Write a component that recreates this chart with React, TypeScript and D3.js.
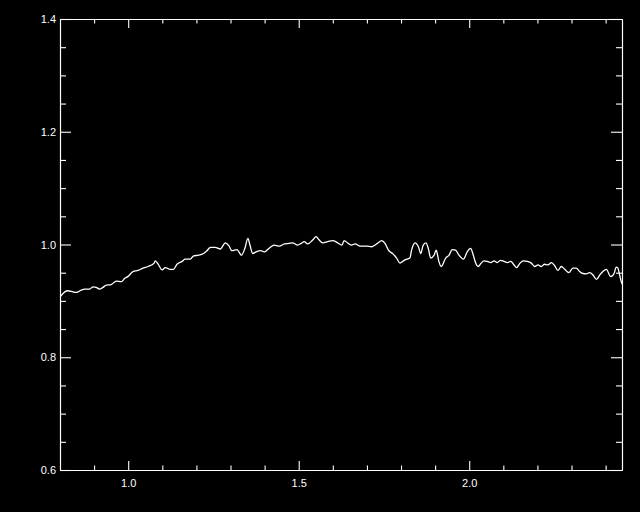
import React, { useEffect, useRef } from 'react';
import * as d3 from 'd3';

// wavelength (x) and normalised flux (y)
const wavelength = [
  0.800, 0.814, 0.823, 0.838, 0.848, 0.862, 0.872, 0.887, 0.897, 0.906,
  0.916, 0.926, 0.936, 0.950, 0.965, 0.980, 0.990, 0.999, 1.014, 1.029,
  1.043, 1.058, 1.076, 1.079, 1.089, 1.099, 1.109, 1.123, 1.133, 1.143,
  1.158, 1.167, 1.182, 1.192, 1.207, 1.221, 1.231, 1.241, 1.255, 1.270,
  1.285, 1.295, 1.304, 1.319, 1.332, 1.342, 1.351, 1.357, 1.365, 1.375,
  1.389, 1.399, 1.409, 1.419, 1.428, 1.443, 1.458, 1.472, 1.482, 1.497,
  1.507, 1.516, 1.526, 1.541, 1.551, 1.560, 1.570, 1.585, 1.600, 1.614,
  1.627, 1.633, 1.645, 1.655, 1.665, 1.680, 1.699, 1.714, 1.724, 1.733,
  1.743, 1.753, 1.763, 1.777, 1.787, 1.797, 1.807, 1.817, 1.826, 1.831,
  1.841, 1.851, 1.858, 1.865, 1.873, 1.880, 1.887, 1.897, 1.903, 1.905,
  1.911, 1.918, 1.931, 1.941, 1.950, 1.960, 1.970, 1.983, 1.994, 2.004,
  2.012, 2.019, 2.026, 2.035, 2.043, 2.053, 2.063, 2.073, 2.082, 2.092,
  2.102, 2.112, 2.122, 2.131, 2.139, 2.149, 2.159, 2.170, 2.182, 2.192,
  2.202, 2.211, 2.221, 2.231, 2.241, 2.251, 2.260, 2.270, 2.280, 2.292,
  2.304, 2.314, 2.324, 2.331, 2.343, 2.353, 2.363, 2.373, 2.383, 2.392,
  2.402, 2.415, 2.425, 2.431, 2.436, 2.441, 2.446, 2.451,
];

const flux = [
  0.907, 0.916, 0.918, 0.916, 0.915, 0.919, 0.921, 0.921, 0.925, 0.924,
  0.921, 0.924, 0.928, 0.929, 0.935, 0.934, 0.940, 0.943, 0.952, 0.954,
  0.958, 0.961, 0.967, 0.971, 0.964, 0.955, 0.959, 0.956, 0.956, 0.965,
  0.970, 0.974, 0.974, 0.980, 0.981, 0.984, 0.989, 0.995, 0.995, 0.992,
  1.003, 0.998, 0.989, 0.991, 0.981, 0.993, 1.011, 0.999, 0.984, 0.987,
  0.989, 0.987, 0.991, 0.996, 0.999, 0.997, 1.001, 1.002, 1.003, 0.999,
  1.002, 1.005, 1.001, 1.008, 1.014, 1.008, 1.003, 1.005, 1.007, 1.003,
  0.999, 1.007, 1.002, 0.999, 1.001, 0.997, 0.997, 0.996, 0.999, 1.003,
  1.007, 1.002, 0.990, 0.983, 0.976, 0.967, 0.971, 0.974, 0.976, 0.990,
  1.003, 0.996, 0.984, 0.999, 1.003, 0.993, 0.976, 0.981, 0.990, 0.987,
  0.970, 0.961, 0.976, 0.981, 0.991, 0.990, 0.981, 0.974, 0.987, 0.993,
  0.981, 0.967, 0.961, 0.967, 0.971, 0.970, 0.968, 0.971, 0.968, 0.972,
  0.970, 0.968, 0.970, 0.964, 0.959, 0.967, 0.971, 0.970, 0.967, 0.961,
  0.964, 0.961, 0.965, 0.964, 0.968, 0.962, 0.954, 0.961, 0.956, 0.950,
  0.958, 0.958, 0.952, 0.949, 0.948, 0.950, 0.946, 0.938, 0.946, 0.952,
  0.956, 0.943, 0.949, 0.960, 0.958, 0.946, 0.934, 0.928,
];

const xDomain = [0.8, 2.448];
const yDomain = [0.6, 1.4];
const xMajor = [1.0, 1.5, 2.0];
const xMinor = [0.9, 1.1, 1.2, 1.3, 1.4, 1.6, 1.7, 1.8, 1.9, 2.1, 2.2, 2.3, 2.4];
const yMajor = [0.6, 0.8, 1.0, 1.2, 1.4];
const yMinor = [0.65, 0.7, 0.75, 0.85, 0.9, 0.95, 1.05, 1.1, 1.15, 1.25, 1.3, 1.35];

export default function App() {
  const svgRef = useRef<SVGSVGElement>(null);

  useEffect(() => {
    const W = 640;
    const H = 512;
    const margin = { top: 19, right: 18, bottom: 42, left: 60 };
    const width = W - margin.left - margin.right;
    const height = H - margin.top - margin.bottom;

    const root = d3.select(svgRef.current);
    root.selectAll('*').remove();

    root.append('rect').attr('width', W).attr('height', H).attr('fill', '#000');

    const svg = root.append('g').attr('transform', `translate(${margin.left},${margin.top})`);

    const x = d3.scaleLinear().domain(xDomain).range([0, width]);
    const y = d3.scaleLinear().domain(yDomain).range([height, 0]);
    const fmt = d3.format('.1f');
    const none = () => '';

    const style = (g: any) => {
      g.selectAll('path.domain').attr('stroke', '#fff').attr('stroke-width', 1.1);
      g.selectAll('line').attr('stroke', '#fff').attr('stroke-width', 1.1);
      g.selectAll('text')
        .attr('fill', '#fff')
        .style('font-family', '"Liberation Sans", Arial, sans-serif')
        .style('font-size', '11px');
    };

    // bottom
    svg.append('g').attr('transform', `translate(0,${height})`)
      .call(d3.axisBottom(x).tickValues(xMinor).tickSizeInner(-4.5).tickSizeOuter(0).tickFormat(none))
      .call(style);
    svg.append('g').attr('transform', `translate(0,${height})`)
      .call(d3.axisBottom(x).tickValues(xMajor).tickSizeInner(-9).tickSizeOuter(0).tickPadding(9).tickFormat(fmt))
      .call(style);
    // top
    svg.append('g')
      .call(d3.axisTop(x).tickValues(xMinor).tickSizeInner(-4.5).tickSizeOuter(0).tickFormat(none))
      .call(style);
    svg.append('g')
      .call(d3.axisTop(x).tickValues(xMajor).tickSizeInner(-9).tickSizeOuter(0).tickFormat(none))
      .call(style);
    // left
    svg.append('g')
      .call(d3.axisLeft(y).tickValues(yMinor).tickSizeInner(-6).tickSizeOuter(0).tickFormat(none))
      .call(style);
    svg.append('g')
      .call(d3.axisLeft(y).tickValues(yMajor).tickSizeInner(-11).tickSizeOuter(0).tickPadding(4).tickFormat(fmt))
      .call(style);
    // right
    svg.append('g').attr('transform', `translate(${width},0)`)
      .call(d3.axisRight(y).tickValues(yMinor).tickSizeInner(-6).tickSizeOuter(0).tickFormat(none))
      .call(style);
    svg.append('g').attr('transform', `translate(${width},0)`)
      .call(d3.axisRight(y).tickValues(yMajor).tickSizeInner(-11).tickSizeOuter(0).tickFormat(none))
      .call(style);

    svg.append('clipPath').attr('id', 'plot-clip')
      .append('rect').attr('width', width).attr('height', height);

    const line = d3.line<number>()
      .x((_, i) => x(wavelength[i]))
      .y(d => y(d))
      .curve(d3.curveMonotoneX);

    svg.append('path')
      .datum(flux)
      .attr('clip-path', 'url(#plot-clip)')
      .attr('fill', 'none')
      .attr('stroke', '#fff')
      .attr('stroke-width', 1.3)
      .attr('stroke-linejoin', 'round')
      .attr('d', line);
  }, []);

  return (
    <div style={{ position: 'absolute', left: 0, top: 0, width: 640, height: 512, background: '#000' }}>
      <svg ref={svgRef} width={640} height={512} style={{ display: 'block' }} />
    </div>
  );
}
